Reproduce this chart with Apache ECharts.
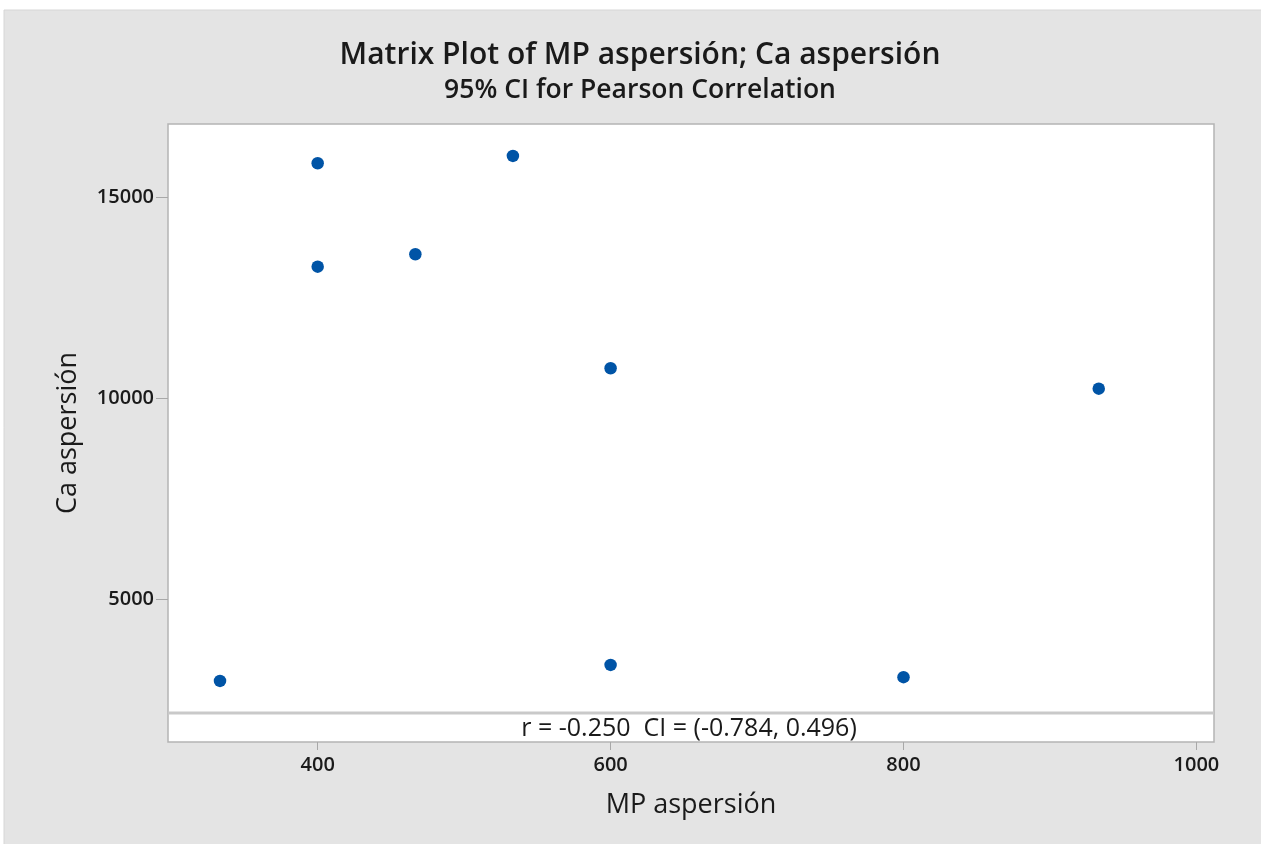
<!DOCTYPE html>
<html>
<head>
<meta charset="utf-8">
<script src="https://cdn.jsdelivr.net/npm/echarts@6/dist/echarts.min.js"></script>
<style>
html,body{margin:0;padding:0;background:#fff;}
#chart{width:1261px;height:844px;}
</style>
</head>
<body>
<div id="chart"></div>
<script>
// Data
var mpAspersion = [333.3, 400, 400, 466.7, 533.3, 600, 600, 800, 933.3];
var caAspersion = [2960, 15838, 13266, 13575, 16020, 10739, 3358, 3052, 10231];
var xTicks = [400, 600, 800, 1000];
var yTicks = [5000, 10000, 15000];
var titleText = 'Matrix Plot of MP aspersión; Ca aspersión';
var subtitleText = '95% CI for Pearson Correlation';
var xTitle = 'MP aspersión';
var yTitle = 'Ca aspersión';
var corrText = 'r = -0.250  CI = (-0.784, 0.496)';

var points = mpAspersion.map(function (x, i) { return [x, caAspersion[i]]; });

var FONT = '"Open Sans", "Noto Sans", sans-serif';
var chart = echarts.init(document.getElementById('chart'), null, {renderer: 'canvas'});

var gridL = 168, gridT = 124, gridW = 1046, gridH = 618;

chart.setOption({
  backgroundColor: '#ffffff',
  animation: false,
  title: [
    {text: titleText, left: 635, top: 35, textAlign: 'center',
     textStyle: {fontFamily: FONT, fontSize: 30, fontWeight: 600, color: '#1a1a1a'}},
    {text: subtitleText, left: 635, top: 72, textAlign: 'center',
     textStyle: {fontFamily: FONT, fontSize: 26.5, fontWeight: 600, color: '#1a1a1a'}}
  ],
  graphic: [
    {type: 'rect', z: -10, silent: true,
     shape: {x: 4, y: 10, width: 1270, height: 840},
     style: {fill: '#e4e4e4', stroke: '#d6d6d6', lineWidth: 1}},
    {type: 'rect', z: -5, silent: true,
     shape: {x: gridL, y: gridT, width: gridW, height: gridH},
     style: {fill: '#ffffff', stroke: '#b4b4b4', lineWidth: 1.5}},
    {type: 'line', z: 5, silent: true,
     shape: {x1: gridL, y1: 713, x2: gridL + gridW, y2: 713},
     style: {stroke: '#c9c9c9', lineWidth: 3}},
    {type: 'text', z: 6, silent: true,
     style: {text: corrText, x: 689, y: 729, align: 'center', verticalAlign: 'middle',
             font: '25px ' + FONT, fill: '#1a1a1a'}}
  ],
  grid: {left: gridL, top: gridT, width: gridW, height: gridH, show: false},
  xAxis: {
    type: 'value', min: 297.8, max: 1012,
    name: xTitle, nameLocation: 'middle', nameGap: 50,
    nameTextStyle: {fontFamily: FONT, fontSize: 27, color: '#1a1a1a'},
    axisLine: {show: false},
    axisTick: {show: true, customValues: xTicks, length: 8, lineStyle: {color: '#a8a8a8', width: 1}},
    axisLabel: {customValues: xTicks, margin: 13, fontFamily: FONT, fontSize: 20, fontWeight: 600, color: '#1a1a1a',
                formatter: function (v) { return String(Math.round(v)); }},
    splitLine: {show: false}
  },
  yAxis: {
    type: 'value', min: 1440, max: 16815,
    name: yTitle, nameLocation: 'middle', nameGap: 86, nameRotate: 90,
    nameTextStyle: {fontFamily: FONT, fontSize: 27, color: '#1a1a1a'},
    axisLine: {show: false},
    axisTick: {show: true, customValues: yTicks, length: 12, lineStyle: {color: '#a8a8a8', width: 1}},
    axisLabel: {customValues: yTicks, margin: 14, fontFamily: FONT, fontSize: 20, fontWeight: 600, color: '#1a1a1a',
                formatter: function (v) { return String(Math.round(v)); }},
    splitLine: {show: false}
  },
  series: [{
    type: 'scatter',
    data: points,
    symbol: 'circle',
    symbolSize: 12.5,
    itemStyle: {color: '#0054a6', opacity: 1},
    z: 10
  }]
});
</script>
</body>
</html>
